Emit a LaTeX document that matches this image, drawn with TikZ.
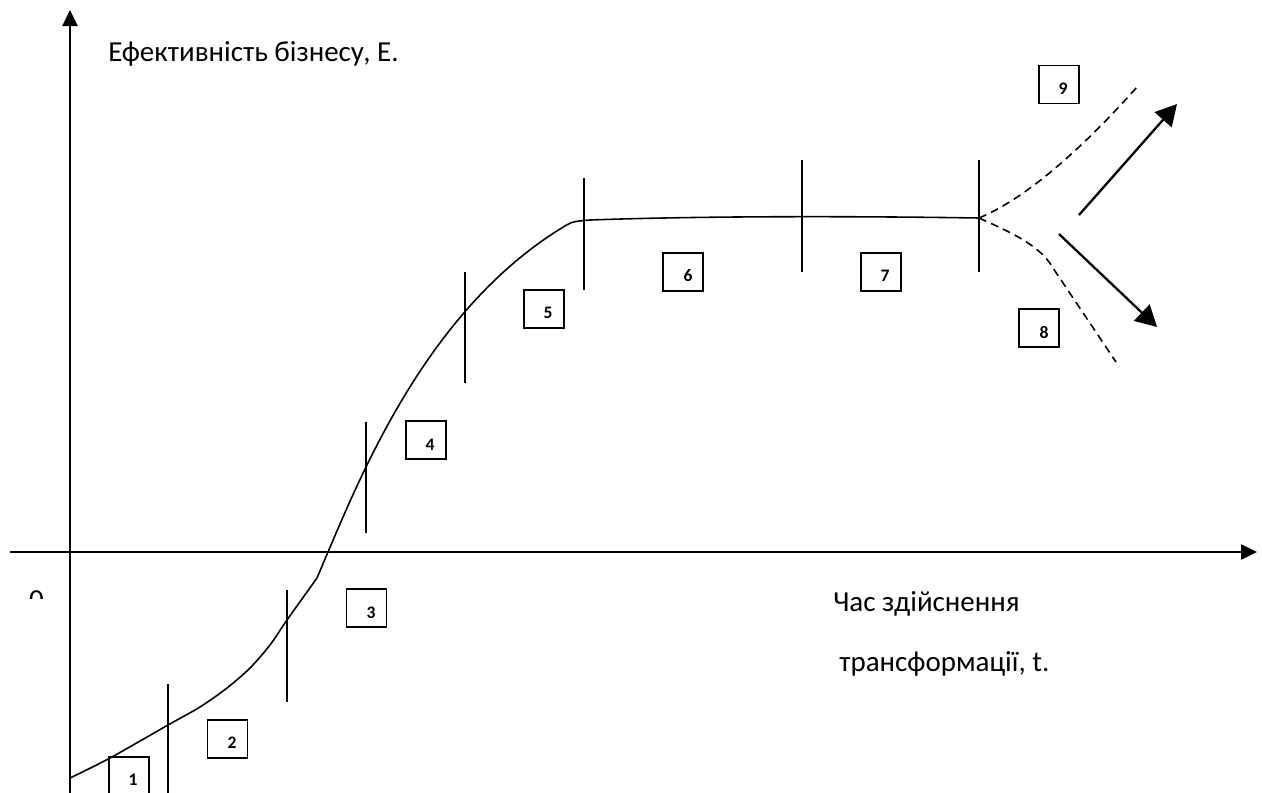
\documentclass[tikz,border=0pt]{standalone}
\usepackage{fontspec}
\setmainfont{Carlito}
\usetikzlibrary{arrows.meta}
\begin{document}
\begin{tikzpicture}[x=0.02cm,y=-0.02cm,
  axis/.style={line width=1.4pt,-{Triangle[length=0.32cm,width=0.3cm]}},
  tick/.style={line width=1.1pt},
  curve/.style={line width=0.9pt,line join=round},
  dashcurve/.style={line width=0.9pt,dash pattern=on 4.5pt off 3pt},
  bigarrow/.style={line width=1.3pt,-{Triangle[length=0.42cm,width=0.45cm]}},
  numbox/.style={draw,line width=0.9pt,minimum width=0.8cm,minimum height=0.76cm,inner sep=0pt},
  digit/.style={font=\fontsize{10}{12}\selectfont\bfseries,inner sep=0pt},
  lbl/.style={font=\fontsize{16.5}{19}\selectfont,inner sep=0pt,anchor=base west}]
\useasboundingbox (0,0) rectangle (1262,792);
% axes
\coordinate (ybot) at (70,800);
\coordinate (ytop) at (70,10);
\coordinate (xleft) at (10,552);
\coordinate (xright) at (1257,552);
\draw[axis] (ybot) -- (ytop);
\draw[axis] (xleft) -- (xright);
% zero label (top half only)
\begin{scope}
\clip (20,585) rectangle (60,598);
\node[font=\fontsize{16.5}{19}\selectfont,inner sep=0pt,anchor=north] (zero) at (36.5,590) {0};
\end{scope}
% labels
\node[lbl] (ylabel) at (108,61) {Ефективність бізнесу, Е.};
\node[lbl] (xlabel1) at (833,611) {Час здійснення};
\node[lbl] (xlabel2) at (839,671) {трансформації, t.};
% curve
\draw[curve] plot[smooth,tension=0.5] coordinates {(70,778) (110,758) (168,725) (200,707) (227,688) (250,668) (270,645) (287,620) (317,578)};
\draw[curve] (317,578) -- (328,552) .. controls (365,465) and (430,310) .. (560,229)
  .. controls (572,221.5) .. (590,220) .. controls (700,216) and (850,216) .. (979,218);
% ticks
\coordinate (f) at (979,218);
\draw[tick] (168,684) -- (168,800);
\draw[tick] (287,590) -- (287,702);
\draw[tick] (366,422) -- (366,533);
\draw[tick] (465,272) -- (465,383);
\draw[tick] (584,178) -- (584,290);
\draw[tick] (802,160) -- (802,272);
\draw[tick] (979,160) -- (979,272);
% dashed branches
\coordinate (up) at (1137,87);
\coordinate (dn) at (1116,362);
\draw[dashcurve] (f) .. controls (1030,197) and (1090,140) .. (up);
\draw[dashcurve] (f) .. controls (1010,232) and (1040,245) .. (1053,268) -- (dn);
% big arrows
\coordinate (a1s) at (1079,215);
\coordinate (a1e) at (1177,104);
\coordinate (a2s) at (1059,234);
\coordinate (a2e) at (1157,327);
\draw[bigarrow] (a1s) -- (a1e);
\draw[bigarrow] (a2s) -- (a2e);
% boxes
\node[numbox] (b1) at (129,776) {};
\node[digit] at (133,780) {1};
\node[numbox] (b2) at (227.5,739) {};
\node[digit] at (232,743) {2};
\node[numbox] (b3) at (366.5,608) {};
\node[digit] at (371,613) {3};
\node[numbox] (b4) at (426,440) {};
\node[digit] at (430,445) {4};
\node[numbox] (b5) at (544,309) {};
\node[digit] at (548,313) {5};
\node[numbox] (b6) at (683,272) {};
\node[digit] at (688,276) {6};
\node[numbox] (b7) at (881,272) {};
\node[digit] at (885,276) {7};
\node[numbox] (b8) at (1039,328) {};
\node[digit] at (1044,332) {8};
\node[numbox] (b9) at (1059,84.5) {};
\node[digit] at (1063,89) {9};
\end{tikzpicture}
\end{document}
